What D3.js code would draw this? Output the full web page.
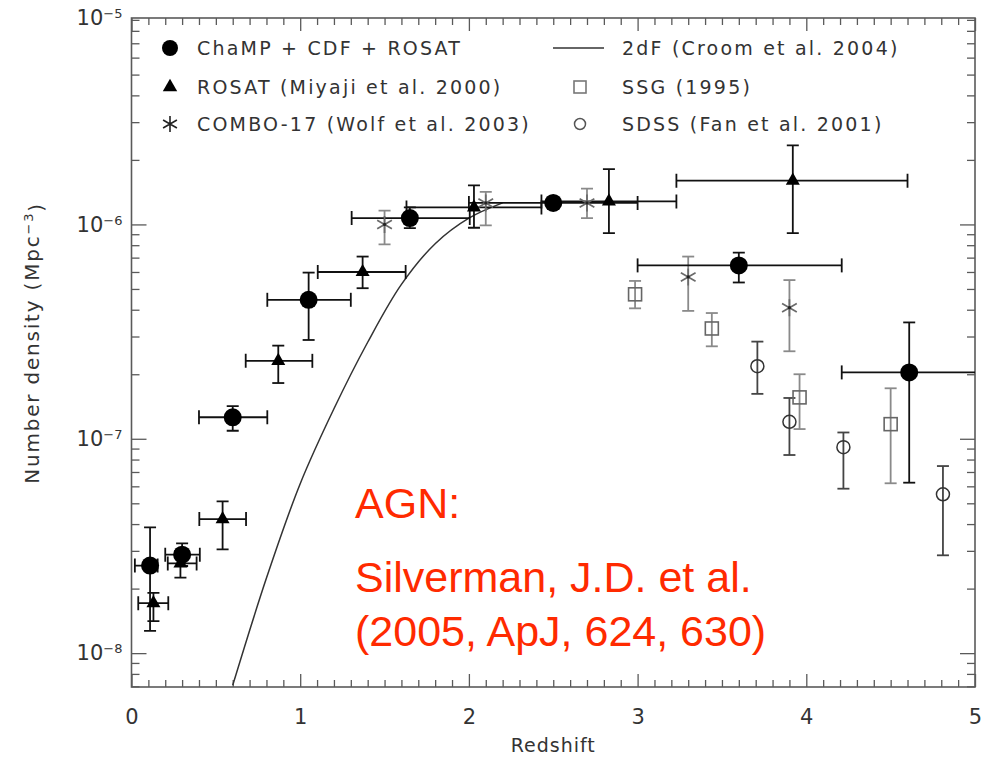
<!DOCTYPE html>
<html>
<head>
<meta charset="utf-8">
<script src="https://cdn.jsdelivr.net/npm/d3@7"></script>
<style>
  body { margin: 0; background: #fff; }
  text { font-family: "DejaVu Sans", sans-serif; }
</style>
</head>
<body>
<div id="chart-area"></div>
<script>

// Data
// [z, n, nLow, nHigh, zLow, zHigh]
var champ = [
    [0.11, 2.56e-8, 1.27e-8, 3.86e-8, 0.02, 0.155],
    [0.30, 2.88e-8, 2.55e-8, 3.25e-8, 0.20, 0.405],
    [0.60, 1.26e-7, 1.09e-7, 1.42e-7, 0.40, 0.805],
    [1.05, 4.45e-7, 2.89e-7, 5.96e-7, 0.805, 1.30],
    [1.65, 1.07e-6, 9.6e-7, 1.20e-6, 1.305, 2.005],
    [2.50, 1.26e-6, 1.21e-6, 1.31e-6, 2.00, 3.00],
    [3.60, 6.44e-7, 5.36e-7, 7.38e-7, 3.00, 4.21],
    [4.61, 2.04e-7, 6.24e-8, 3.49e-7, 4.21, 5.30]
];
var rosat = [
    [0.13, 1.71e-8, 1.41e-8, 1.91e-8, 0.04, 0.218],
    [0.29, 2.62e-8, 2.25e-8, 3.00e-8, 0.215, 0.386],
    [0.54, 4.22e-8, 3.05e-8, 5.10e-8, 0.402, 0.679],
    [0.87, 2.31e-7, 1.82e-7, 2.72e-7, 0.677, 1.072],
    [1.37, 6.00e-7, 5.04e-7, 7.08e-7, 1.104, 1.625],
    [2.03, 1.20e-6, 9.65e-7, 1.52e-6, 1.63, 2.43],
    [2.83, 1.28e-6, 9.10e-7, 1.81e-6, 2.43, 3.23],
    [3.92, 1.60e-6, 9.10e-7, 2.34e-6, 3.23, 4.60]
];
// [z, n, nLow, nHigh]
var combo = [
    [1.50, 1.00e-6, 8.07e-7, 1.16e-6],
    [2.10, 1.26e-6, 9.90e-7, 1.42e-6],
    [2.70, 1.26e-6, 1.07e-6, 1.47e-6],
    [3.30, 5.69e-7, 3.95e-7, 7.08e-7],
    [3.90, 4.09e-7, 2.56e-7, 5.50e-7]
];
var ssg = [
    [2.985, 4.72e-7, 4.06e-7, 5.45e-7],
    [3.44, 3.27e-7, 2.70e-7, 3.86e-7],
    [3.96, 1.56e-7, 1.11e-7, 2.00e-7],
    [4.50, 1.17e-7, 6.20e-8, 1.72e-7]
];
var sdss = [
    [3.71, 2.18e-7, 1.62e-7, 2.84e-7],
    [3.90, 1.20e-7, 8.40e-8, 1.55e-7],
    [4.22, 9.14e-8, 5.85e-8, 1.07e-7],
    [4.81, 5.51e-8, 2.86e-8, 7.46e-8]
];
// 2dF model curve (Croom et al. 2004)
var croomZ = [0.60, 0.80, 1.00, 1.20, 1.40, 1.60, 1.80, 2.00, 2.20];
var croomN = [7.08e-9, 2.24e-8, 6.17e-8, 1.38e-7, 2.82e-7, 5.25e-7, 8.13e-7, 1.07e-6, 1.26e-6];

var xMajor = [0, 1, 2, 3, 4, 5];
var yMajor = [1e-8, 1e-7, 1e-6, 1e-5];
var yExp = ["−8", "−7", "−6", "−5"];

var legendLeft = ["ChaMP + CDF + ROSAT", "ROSAT (Miyaji et al. 2000)", "COMBO-17 (Wolf et al. 2003)"];
var legendRight = ["2dF (Croom et al. 2004)", "SSG (1995)", "SDSS (Fan et al. 2001)"];
var noteLines = ["AGN:", "Silverman, J.D. et al.", "(2005, ApJ, 624, 630)"];

// SVG drawing area
var margin = {top: 18, right: 17, bottom: 75, left: 131.5};
var width = 992 - margin.left - margin.right,
    height = 762 - margin.top - margin.bottom;

var frameColor = "#5a5a5a";
var grey = "#8a8a8a";

var root = d3.select("#chart-area").append("svg")
    .attr("width", 992)
    .attr("height", 762);

var svg = root.append("g")
    .attr("transform", "translate(" + margin.left + "," + margin.top + ")");

svg.append("clipPath").attr("id", "plot-clip")
    .append("rect").attr("width", width).attr("height", height);

var x = d3.scaleLinear().domain([0, 5]).range([0, width]);
var y = d3.scaleLog()
    .domain([Math.pow(10, -8.158), Math.pow(10, -5.037)])
    .range([height, 0])
    .clamp(true);

// minor ticks
var xMinor = x.ticks(50).filter(function (d) { return Math.abs(d - Math.round(d)) > 1e-6; });
var yMinor = [];
[-9, -8, -7, -6, -5].forEach(function (e) {
    for (var k = 2; k <= 9; k++) {
        var v = k * Math.pow(10, e);
        if (v > y.domain()[0] && v < y.domain()[1]) yMinor.push(v);
    }
});

function styleTicks(g) {
    g.select(".domain").remove();
    g.selectAll(".tick line").attr("stroke", frameColor).attr("stroke-width", 1.3);
}

// x axes (bottom with labels, top without)
svg.append("g").attr("transform", "translate(0," + height + ")")
    .call(d3.axisBottom(x).tickValues(xMinor).tickSize(-7).tickFormat(""))
    .call(styleTicks);
var xAx = svg.append("g").attr("transform", "translate(0," + height + ")")
    .call(d3.axisBottom(x).tickValues(xMajor).tickSize(-13).tickPadding(22).tickFormat(d3.format("d")))
    .call(styleTicks);
xAx.selectAll("text").attr("font-size", 21).attr("fill", "#333")
    .style("font-family", "DejaVu Sans");

svg.append("g")
    .call(d3.axisTop(x).tickValues(xMinor).tickSize(-7).tickFormat(""))
    .call(styleTicks);
svg.append("g")
    .call(d3.axisTop(x).tickValues(xMajor).tickSize(-13).tickFormat(""))
    .call(styleTicks);

// y axes (left with labels, right without)
svg.append("g")
    .call(d3.axisLeft(y).tickValues(yMinor).tickSize(-8).tickFormat(""))
    .call(styleTicks);
var yAx = svg.append("g")
    .call(d3.axisLeft(y).tickValues(yMajor).tickSize(-15).tickPadding(9).tickFormat(""))
    .call(styleTicks);
yAx.selectAll(".tick text").each(function (d, i) {
    var t = d3.select(this).attr("fill", "#333").attr("font-size", 21);
    t.append("tspan").text("10");
    t.append("tspan").attr("dy", "-0.55em").attr("font-size", 13).text(yExp[i]);
});
// the 10^-5 tick falls just off the top, so drop its line
yAx.selectAll(".tick").filter(function (d) { return d > y.domain()[1]; })
    .select("line").remove();

svg.append("g").attr("transform", "translate(" + width + ",0)")
    .call(d3.axisRight(y).tickValues(yMinor).tickSize(-8).tickFormat(""))
    .call(styleTicks);
svg.append("g").attr("transform", "translate(" + width + ",0)")
    .call(d3.axisRight(y).tickValues(yMajor.filter(function (d) { return d < y.domain()[1]; }))
        .tickSize(-15).tickFormat(""))
    .call(styleTicks);

// frame
svg.append("rect")
    .attr("width", width).attr("height", height)
    .attr("fill", "none").attr("stroke", frameColor).attr("stroke-width", 1.6);

// axis titles
svg.append("text")
    .attr("x", width / 2).attr("y", height + 65)
    .attr("text-anchor", "middle").attr("font-size", 19).attr("fill", "#333")
    .style("letter-spacing", "1px")
    .text("Redshift");

var yt = root.append("text")
    .attr("transform", "translate(39,343) rotate(-90)")
    .attr("text-anchor", "middle").attr("font-size", 20).attr("fill", "#333")
    .style("letter-spacing", "1.8px");
yt.append("tspan").text("Number density (Mpc");
yt.append("tspan").attr("dy", "-0.5em").attr("font-size", 13).text("−3");
yt.append("tspan").attr("dy", "0.5em").text(")");

// 2dF curve
var line = d3.line()
    .x(function (d, i) { return x(croomZ[i]); })
    .y(function (d) { return y(d); })
    .curve(d3.curveCatmullRom.alpha(0.5));

var plot = svg.append("g").attr("clip-path", "url(#plot-clip)");

plot.append("path")
    .datum(croomN)
    .attr("d", line)
    .attr("fill", "none")
    .attr("stroke", "#333")
    .attr("stroke-width", 1.5);

// error bars
function errorBars(data, color, hasX) {
    var g = plot.append("g").attr("stroke", color).attr("stroke-width", 1.8).attr("fill", "none");
    data.forEach(function (d) {
        var cx = x(d[0]), cy = y(d[1]);
        g.append("line").attr("x1", cx).attr("x2", cx).attr("y1", y(d[2])).attr("y2", y(d[3]));
        g.append("line").attr("x1", cx - 6).attr("x2", cx + 6).attr("y1", y(d[2])).attr("y2", y(d[2]));
        g.append("line").attr("x1", cx - 6).attr("x2", cx + 6).attr("y1", y(d[3])).attr("y2", y(d[3]));
        if (hasX) {
            g.append("line").attr("x1", x(d[4])).attr("x2", x(d[5])).attr("y1", cy).attr("y2", cy);
            g.append("line").attr("x1", x(d[4])).attr("x2", x(d[4])).attr("y1", cy - 7).attr("y2", cy + 7);
            g.append("line").attr("x1", x(d[5])).attr("x2", x(d[5])).attr("y1", cy - 7).attr("y2", cy + 7);
        }
    });
}

errorBars(ssg, grey, false);
errorBars(sdss, "#444", false);
errorBars(combo, grey, false);
errorBars(rosat, "#111", true);
errorBars(champ, "#111", true);

// marker shapes
function starPath(r) {
    var a = r * Math.cos(Math.PI / 6), b = r * Math.sin(Math.PI / 6);
    return "M0," + (-r) + "L0," + r +
        "M" + (-a) + "," + (-b) + "L" + a + "," + b +
        "M" + (-a) + "," + b + "L" + a + "," + (-b);
}
var triPath = d3.symbol().type(d3.symbolTriangle).size(85)();

var marks = svg.append("g");

marks.selectAll(".ssg").data(ssg).enter().append("rect")
    .attr("class", "ssg")
    .attr("x", function (d) { return x(d[0]) - 6.5; })
    .attr("y", function (d) { return y(d[1]) - 6.5; })
    .attr("width", 13).attr("height", 13)
    .attr("fill", "none").attr("stroke", "#666").attr("stroke-width", 1.6);

marks.selectAll(".sdss").data(sdss).enter().append("circle")
    .attr("class", "sdss")
    .attr("cx", function (d) { return x(d[0]); })
    .attr("cy", function (d) { return y(d[1]); })
    .attr("r", 6.5)
    .attr("fill", "none").attr("stroke", "#333").attr("stroke-width", 1.5);

marks.selectAll(".combo").data(combo).enter().append("path")
    .attr("class", "combo")
    .attr("transform", function (d) { return "translate(" + x(d[0]) + "," + y(d[1]) + ")"; })
    .attr("d", starPath(8.5))
    .attr("stroke", "#6a6a6a").attr("stroke-width", 1.7).attr("fill", "none");

marks.selectAll(".combo-dot").data(combo).enter().append("circle")
    .attr("class", "combo-dot")
    .attr("cx", function (d) { return x(d[0]); })
    .attr("cy", function (d) { return y(d[1]); })
    .attr("r", 1.6)
    .attr("fill", "#222");

marks.selectAll(".rosat").data(rosat).enter().append("path")
    .attr("class", "rosat")
    .attr("transform", function (d) { return "translate(" + x(d[0]) + "," + y(d[1]) + ")"; })
    .attr("d", triPath)
    .attr("fill", "#000");

marks.selectAll(".champ").data(champ).enter().append("circle")
    .attr("class", "champ")
    .attr("cx", function (d) { return x(d[0]); })
    .attr("cy", function (d) { return y(d[1]); })
    .attr("r", 9)
    .attr("fill", "#000");

// legend
var leg = root.append("g").attr("font-size", 19).attr("fill", "#333")
    .style("letter-spacing", "2.2px");
var rowY = [48, 87, 124];

leg.append("circle").attr("cx", 170).attr("cy", rowY[0]).attr("r", 8).attr("fill", "#000");
leg.append("path").attr("transform", "translate(170," + rowY[1] + ")")
    .attr("d", d3.symbol().type(d3.symbolTriangle).size(90)()).attr("fill", "#000");
leg.append("path").attr("transform", "translate(170," + rowY[2] + ")")
    .attr("d", starPath(8)).attr("stroke", "#222").attr("stroke-width", 1.6).attr("fill", "none");

leg.append("line").attr("x1", 553).attr("x2", 604).attr("y1", rowY[0]).attr("y2", rowY[0])
    .attr("stroke", "#333").attr("stroke-width", 1.5);
leg.append("rect").attr("x", 574).attr("y", rowY[1] - 6).attr("width", 12).attr("height", 12)
    .attr("fill", "none").attr("stroke", "#777").attr("stroke-width", 1.6);
leg.append("circle").attr("cx", 580).attr("cy", rowY[2]).attr("r", 5.5)
    .attr("fill", "none").attr("stroke", "#555").attr("stroke-width", 1.5);

leg.selectAll(".ll").data(legendLeft).enter().append("text")
    .attr("class", "ll")
    .attr("x", 197)
    .attr("y", function (d, i) { return rowY[i] + 7; })
    .text(function (d) { return d; });

leg.selectAll(".lr").data(legendRight).enter().append("text")
    .attr("class", "lr")
    .attr("x", 622)
    .attr("y", function (d, i) { return rowY[i] + 7; })
    .text(function (d) { return d; });

// citation note
root.selectAll(".note").data(noteLines).enter().append("text")
    .attr("class", "note")
    .attr("x", 355)
    .attr("y", function (d, i) { return [518, 592, 646][i]; })
    .attr("font-size", 43)
    .attr("fill", "#ff2a00")
    .style("font-family", "Liberation Sans, Arial, sans-serif")
    .text(function (d) { return d; });

</script>
</body>
</html>
